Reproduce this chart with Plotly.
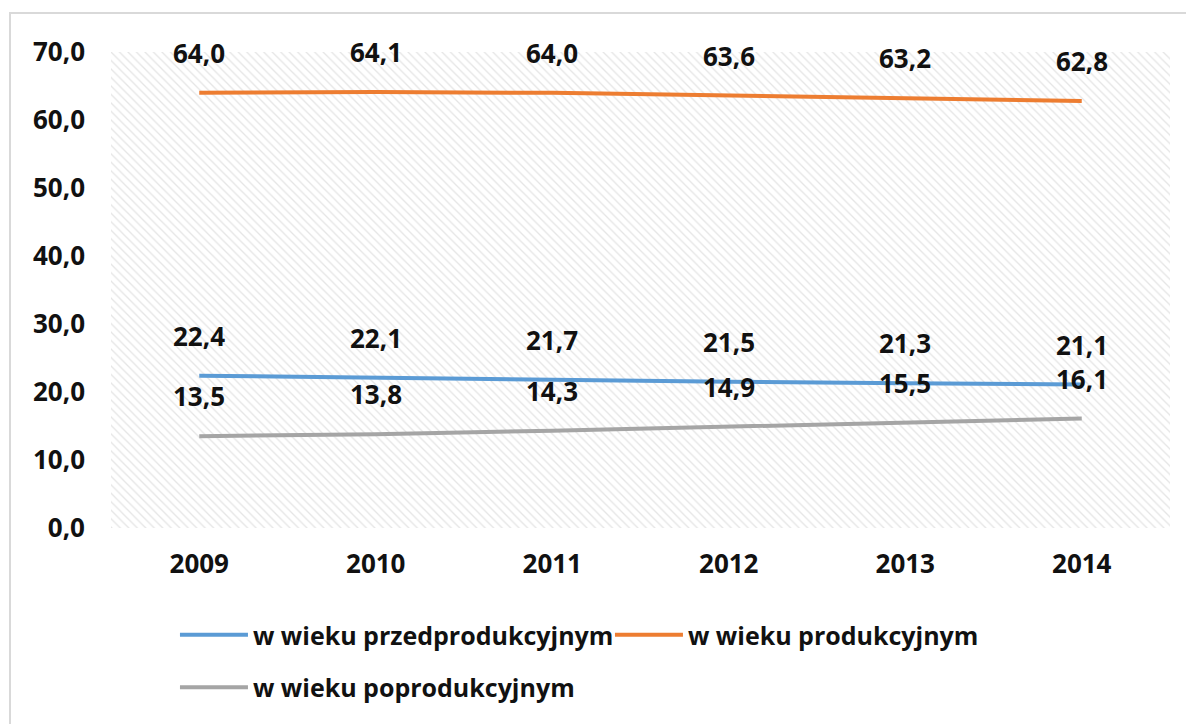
import plotly.graph_objects as go

years = ["2009", "2010", "2011", "2012", "2013", "2014"]
przed = [22.4, 22.1, 21.7, 21.5, 21.3, 21.1]
prod = [64.0, 64.1, 64.0, 63.6, 63.2, 62.8]
popr = [13.5, 13.8, 14.3, 14.9, 15.5, 16.1]

names = ["w wieku przedprodukcyjnym", "w wieku produkcyjnym", "w wieku poprodukcyjnym"]
colors = ["#5B9BD5", "#ED7D31", "#A5A5A5"]
series = [przed, prod, popr]
legends = ["legend", "legend", "legend2"]

FONT = "Open Sans"
X_RANGE = [-0.5, len(years) - 0.5]
Y_RANGE = [0, 70]
xs = list(range(len(years)))

# page body has an 8px margin; compensate in figure margins
L, T, PW, PH = 103, 44, 1059, 476
W, H = 1194, 724

fig = go.Figure()

# hatched plot-area background
fig.add_trace(go.Scatter(
    x=[X_RANGE[0], X_RANGE[1], X_RANGE[1], X_RANGE[0], X_RANGE[0]],
    y=[Y_RANGE[0], Y_RANGE[0], Y_RANGE[1], Y_RANGE[1], Y_RANGE[0]],
    mode="none", fill="toself", fillcolor="rgba(255,255,255,0)",
    fillpattern=dict(shape="\\", fgcolor="#cccccc", bgcolor="white", size=6, solidity=0.22),
    showlegend=False, hoverinfo="skip",
))

for name, vals, col, lg in zip(names, series, colors, legends):
    fig.add_trace(go.Scatter(
        x=xs, y=vals, mode="lines", name=name, legend=lg,
        line=dict(color=col, width=4),
    ))
    for xi, v in zip(xs, vals):
        fig.add_annotation(
            x=xi, y=v, text=f"{v:.1f}".replace(".", ","), showarrow=False,
            yshift=40, font=dict(family=FONT, size=26, color="#111111", weight="bold"),
        )

grid = "#e0e0e0"
leg_font = dict(family=FONT, size=25, weight="bold", color="#111111")
fig.update_layout(
    width=W, height=H,
    margin=dict(l=L, r=W - L - PW, t=T, b=H - T - PH),
    paper_bgcolor="white", plot_bgcolor="white",
    font=dict(family=FONT, size=26, color="#111111"),
    separators=", ",
    xaxis=dict(
        range=X_RANGE, tickvals=xs, ticktext=years, showgrid=True, gridcolor=grid, gridwidth=1,
        zeroline=False, showline=False, ticks="", ticklabelstandoff=18,
        tickfont=dict(family=FONT, size=26, weight="bold", color="#111111"),
        minor=dict(tickvals=[x + 0.5 for x in [-1] + xs], showgrid=True, gridcolor=grid, gridwidth=1),
    ),
    yaxis=dict(
        range=Y_RANGE, dtick=10, tickformat=".1f", showgrid=True, gridcolor=grid, gridwidth=1,
        zeroline=False, showline=False, ticks="", ticklabelstandoff=25,
        tickfont=dict(family=FONT, size=26, weight="bold", color="#111111"),
    ),
    legend=dict(
        orientation="h", x=0.0604, xanchor="left", y=-0.225, yanchor="middle",
        itemwidth=68, entrywidth=352, font=leg_font, bgcolor="rgba(0,0,0,0)",
    ),
    legend2=dict(
        orientation="h", x=0.0604, xanchor="left", y=-0.335, yanchor="middle",
        itemwidth=68, font=leg_font, bgcolor="rgba(0,0,0,0)",
    ),
    shapes=[dict(
        type="rect", xref="paper", yref="paper",
        x0=(2 - L) / PW, x1=(1210 - L) / PW,
        y0=(T + PH - 740) / PH, y1=(T + PH - 5) / PH,
        line=dict(color="#d9d9d9", width=2), fillcolor="rgba(0,0,0,0)", layer="below",
    )],
)

fig.write_html("out.html")
